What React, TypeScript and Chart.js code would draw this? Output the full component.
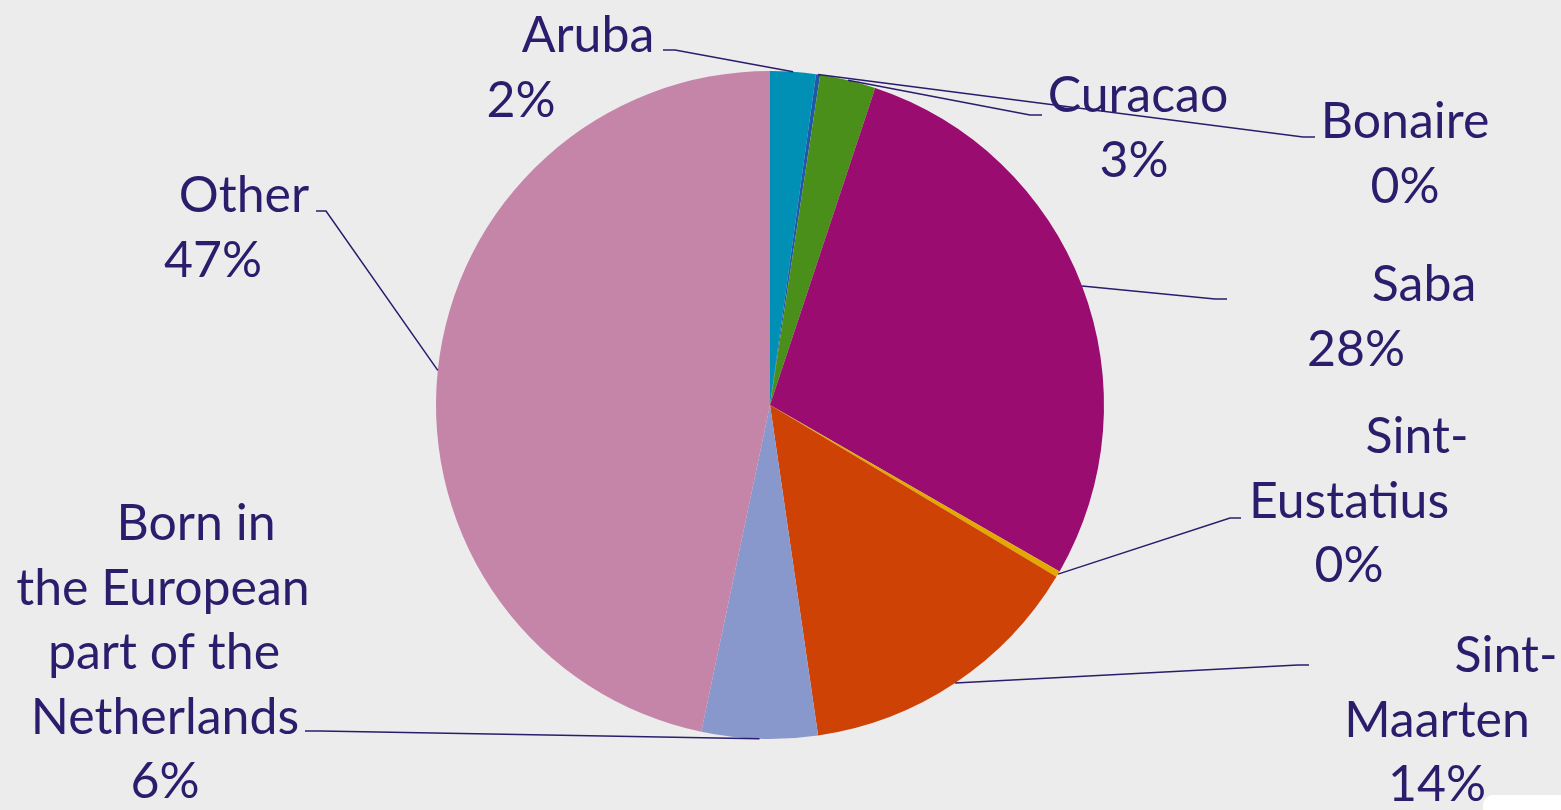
import React, { useEffect, useRef } from "react";
import { Chart, registerables } from "chart.js";

Chart.register(...registerables);

const categories = [
  "Aruba",
  "Bonaire",
  "Curacao",
  "Saba",
  "Sint-Eustatius",
  "Sint-Maarten",
  "Born in the European part of the Netherlands",
  "Other",
];
const values = [2.2, 0.2, 2.7, 28.2, 0.3, 14.1, 5.6, 46.7];
const sliceColors = [
  "#008fb5",
  "#1f58a8",
  "#4a8f1a",
  "#9b0c70",
  "#e2aa00",
  "#cf4206",
  "#8898cc",
  "#c485a8",
];
const labelLines = [
  ["Aruba"],
  ["Bonaire"],
  ["Curacao"],
  ["Saba"],
  ["Sint-", "Eustatius"],
  ["Sint-", "Maarten"],
  ["Born in", "the European", "part of the", "Netherlands"],
  ["Other"],
];

// layout only (label line centres, first baseline, leader elbow and end)
const labelLayout = [
  { xs: [588, 521], y0: 52, elbow: [675, 50], end: [663, 50] },
  { xs: [1405, 1405], y0: 138, elbow: [1303, 137], end: [1315, 137] },
  { xs: [1138, 1134], y0: 112, elbow: [1030, 115], end: [1042, 115] },
  { xs: [1424, 1356], y0: 301, elbow: [1215, 299], end: [1227, 299] },
  { xs: [1417, 1349, 1349], y0: 453, elbow: [1230, 518], end: [1241, 518] },
  { xs: [1506, 1437, 1437], y0: 672, elbow: [1298, 665], end: [1309, 665] },
  { xs: [196, 163, 164, 165, 165], y0: 540, elbow: [320, 731], end: [305, 731] },
  { xs: [244, 213], y0: 212, elbow: [326, 211], end: [316, 211] },
];

const BG = "#ececec";
const INK = "#2b1c6c";
const FONT_SIZE = 50;
const LINE_H = 64.5;

const bgPlugin = {
  id: "bg",
  beforeDraw(chart: any) {
    const ctx = chart.ctx;
    ctx.save();
    ctx.fillStyle = BG;
    ctx.fillRect(0, 0, chart.width, chart.height);
    ctx.restore();
  },
  afterDraw(chart: any) {
    const ctx = chart.ctx;
    ctx.save();
    ctx.fillStyle = "#ffffff";
    ctx.beginPath();
    ctx.roundRect(1483, 795, 100, 40, [10, 0, 0, 0]);
    ctx.fill();
    ctx.restore();
  },
};

const labelPlugin = {
  id: "outerLabels",
  afterDatasetsDraw(chart: any) {
    const ctx = chart.ctx;
    const meta = chart.getDatasetMeta(0);
    const total = values.reduce((a, b) => a + b, 0);
    ctx.save();
    meta.data.forEach((arc: any, i: number) => {
      const p = arc.getProps(["x", "y", "startAngle", "endAngle", "outerRadius"], true);
      const mid = (p.startAngle + p.endAngle) / 2;
      const sx = p.x + Math.cos(mid) * p.outerRadius;
      const sy = p.y + Math.sin(mid) * p.outerRadius;
      const lay = labelLayout[i];
      ctx.strokeStyle = INK;
      ctx.lineWidth = 1.5;
      ctx.beginPath();
      ctx.moveTo(sx, sy);
      ctx.lineTo(lay.elbow[0], lay.elbow[1]);
      ctx.lineTo(lay.end[0], lay.end[1]);
      ctx.stroke();

      const pct = Math.round((values[i] / total) * 100) + "%";
      const lines = [...labelLines[i], pct];
      ctx.fillStyle = INK;
      ctx.font = `${FONT_SIZE}px Lato, "Noto Sans", sans-serif`;
      ctx.textAlign = "center";
      ctx.textBaseline = "alphabetic";
      lines.forEach((t, j) => {
        ctx.fillText(t, lay.xs[j], lay.y0 + j * LINE_H);
      });
    });
    ctx.restore();
  },
};

export default function App() {
  const ref = useRef<HTMLCanvasElement | null>(null);
  useEffect(() => {
    document.body.style.margin = "0";
    document.body.style.background = BG;
    const canvas = ref.current;
    if (!canvas) return;
    const chart = new Chart(canvas, {
      type: "pie",
      data: {
        labels: categories,
        datasets: [
          {
            data: values,
            backgroundColor: sliceColors,
            borderWidth: 0,
          },
        ],
      },
      options: {
        responsive: false,
        animation: false,
        layout: { padding: { top: 71, bottom: 71, left: 436, right: 457 } },
        plugins: {
          legend: { display: false },
          tooltip: { enabled: false },
        },
      },
      plugins: [bgPlugin, labelPlugin],
    });
    return () => chart.destroy();
  }, []);
  return (
    <canvas ref={ref} width={1561} height={810} style={{ display: "block", width: 1561, height: 810 }} />
  );
}
